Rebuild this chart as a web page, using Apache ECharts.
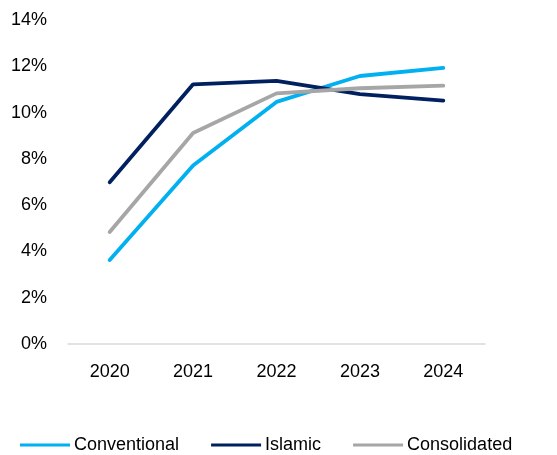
<!DOCTYPE html>
<html>
<head>
<meta charset="utf-8">
<script src="https://cdn.jsdelivr.net/npm/echarts@6/dist/echarts.min.js"></script>
<style>
  html, body { margin: 0; padding: 0; background: #fff; }
  #chart { width: 557px; height: 455px; }
</style>
</head>
<body>
<div id="chart"></div>
<script>
// Years on the category axis
const years = ['2020', '2021', '2022', '2023', '2024'];

// Ratios (%) by segment
const conventional = [3.63, 7.71, 10.46, 11.58, 11.93];
const islamic = [6.99, 11.22, 11.37, 10.80, 10.52];
const consolidated = [4.84, 9.12, 10.83, 11.05, 11.16];

// Value axis range (%)
const yMin = 0;
const yMax = 14;
const yStep = 2;

const font = 'Liberation Sans, Arial, sans-serif';

const chart = echarts.init(document.getElementById('chart'), null, { renderer: 'canvas' });

function lineSeries(name, data, color) {
  return {
    name: name,
    type: 'line',
    data: data,
    symbol: 'none',
    smooth: false,
    lineStyle: { color: color, width: 3.8, cap: 'round', join: 'round' },
    itemStyle: { color: color },
    emphasis: { disabled: true }
  };
}

chart.setOption({
  animation: false,
  backgroundColor: '#ffffff',
  grid: { left: 68, right: 72, top: 20, bottom: 111, containLabel: false },
  xAxis: {
    type: 'category',
    data: years,
    boundaryGap: true,
    axisLine: { show: true, lineStyle: { color: '#d9d9d9', width: 1.5 } },
    axisTick: { show: false },
    axisLabel: { color: '#000', fontFamily: font, fontSize: 18, margin: 19 },
    splitLine: { show: false }
  },
  yAxis: {
    type: 'value',
    min: yMin,
    max: yMax,
    interval: yStep,
    axisLine: { show: false },
    axisTick: { show: false },
    splitLine: { show: false },
    axisLabel: {
      color: '#000',
      fontFamily: font,
      fontSize: 18,
      margin: 21,
      formatter: v => v + '%'
    }
  },
  legend: {
    show: true,
    left: 15,
    top: 431,
    itemWidth: 50,
    itemHeight: 3,
    itemGap: 32,
    icon: 'rect',
    textStyle: { color: '#000', fontFamily: font, fontSize: 18, padding: [0, 0, 0, -1] },
    data: ['Conventional', 'Islamic', 'Consolidated']
  },
  series: [
    lineSeries('Conventional', conventional, '#00b0f0'),
    lineSeries('Islamic', islamic, '#002060'),
    lineSeries('Consolidated', consolidated, '#a6a6a6')
  ]
});
</script>
</body>
</html>
